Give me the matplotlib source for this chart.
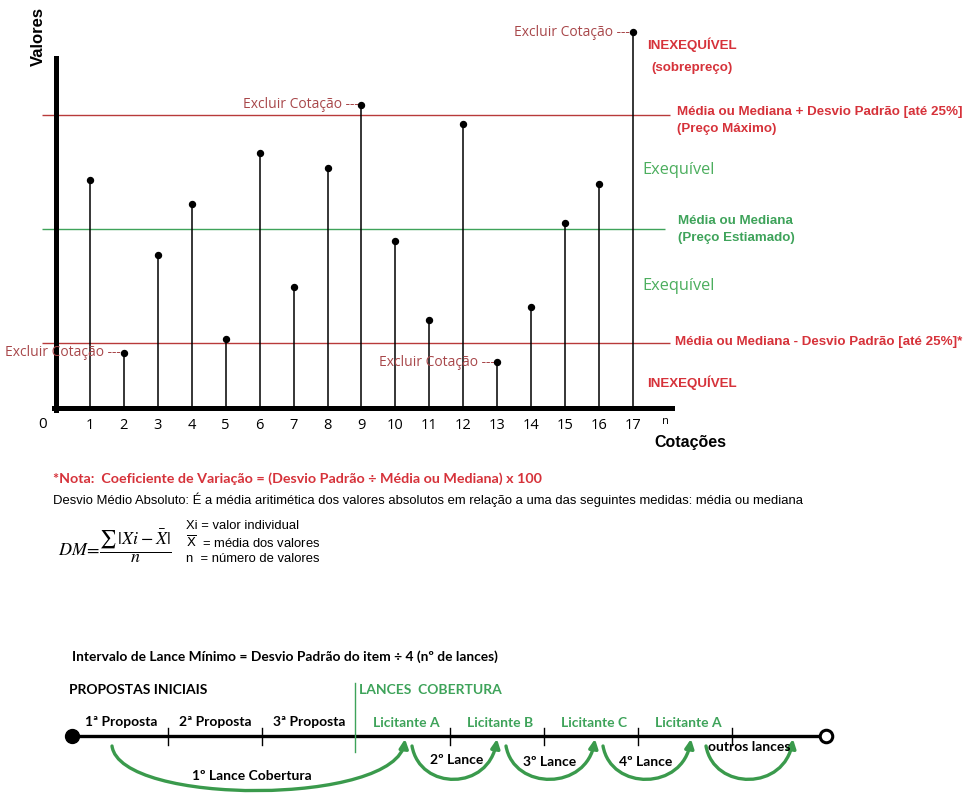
import numpy as np
import matplotlib
matplotlib.use('Agg')
import matplotlib.pyplot as plt
from matplotlib.patches import FancyArrowPatch
from matplotlib.path import Path

# dados
cotacoes = list(range(1, 18))
valores = [57, 13.75, 38.25, 51, 17.25, 63.75, 30.25, 60, 75.75, 41.75,
           22, 71, 11.5, 25.25, 46.25, 56, 94]
excluir = [2, 9, 13, 17]
limite_sup = 73.25   # media + desvio padrao
media = 44.75        # media ou mediana
limite_inf = 16.25   # media - desvio padrao

propostas = ['1ª Proposta', '2ª Proposta', '3ª Proposta']
licitantes = ['Licitante A', 'Licitante B', 'Licitante C', 'Licitante A']
lances = ['1º Lance Cobertura', '2º Lance', '3º Lance', '4º Lance', 'outros lances']

RED = '#d6323a'
RED_LINE = '#b83a3a'
BROWN = '#a8474a'
GREEN = '#3ea35a'
GREEN_LIGHT = '#4cae5e'
ARC = '#3a9a4c'

W, H = 971, 798
fig = plt.figure(figsize=(W / 100, H / 100), dpi=100)

# --- grafico principal (posicao em pixels) ---
px_x = 33.94
x0 = 56
left_px = x0 - 1 * px_x
right_px = x0 + 19 * px_x
ax = fig.add_axes([left_px / W, (H - 424) / H, (right_px - left_px) / W, 416 / H])
ax.set_xlim(-1, 19)
ax.set_ylim(-4, 100)
ax.patch.set_visible(False)

for s in ['top', 'right']:
    ax.spines[s].set_visible(False)
ax.spines['left'].set_position(('data', 0))
ax.spines['bottom'].set_position(('data', 0))
ax.spines['left'].set_bounds(-0.6, 87.5)
ax.spines['bottom'].set_bounds(-0.07, 18.15)
ax.spines['left'].set_linewidth(3.6)
ax.spines['bottom'].set_linewidth(3.6)
ax.set_yticks([])
ax.set_xticks(cotacoes)
ax.set_xticklabels([str(c) for c in cotacoes], fontfamily='Open Sans', fontsize=10.5)
ax.tick_params(axis='x', length=0, pad=7.3)

ax.hlines([limite_sup, limite_inf], -0.41, 18.1, colors=RED_LINE, lw=1.0, zorder=1)
ax.hlines(media, -0.41, 17.95, colors=GREEN, lw=1.0, zorder=1)

ax.vlines(cotacoes, 0, valores, colors='black', lw=1.1, zorder=3)
ax.plot(cotacoes, valores, 'o', ms=4.3, color='black', zorder=4)

for c in excluir:
    ax.annotate('Excluir Cotação ---', (c, valores[c - 1]), xytext=(-2, 0),
                textcoords='offset points', ha='right', va='center',
                color=BROWN, fontsize=10, fontfamily='Open Sans')

# --- camada de textos e diagrama (coordenadas em pixels) ---
ov = fig.add_axes([0, 0, 1, 1])
ov.set_xlim(0, W)
ov.set_ylim(H, 0)
ov.axis('off')


def txt(x, y, s, **kw):
    kw.setdefault('va', 'center')
    ov.text(x, y, s, **kw)


arial_b = dict(fontfamily='Liberation Sans', fontweight='bold')
txt(38, 36, 'Valores', rotation=90, ha='center', fontsize=12, **arial_b)
txt(654, 443, 'Cotações', fontsize=11.5, **arial_b)
txt(43, 424, '0', ha='center', fontsize=11, fontfamily='Open Sans')
txt(665, 422, 'n', ha='center', fontsize=8, fontfamily='Open Sans')

lab = dict(fontsize=9.6, **arial_b)
txt(647, 45, 'INEXEQUÍVEL', color=RED, **lab)
txt(651, 68, '(sobrepreço)', color=RED, **lab)
txt(677, 112, 'Média ou Mediana + Desvio Padrão [até 25%]', color=RED, **lab)
txt(677, 129, '(Preço Máximo)', color=RED, **lab)
txt(642, 170, 'Exequível', color=GREEN_LIGHT, fontsize=11.8, fontfamily='Open Sans')
txt(678, 221, 'Média ou Mediana', color=GREEN, **lab)
txt(678, 238, '(Preço Estiamado)', color=GREEN, **lab)
txt(642, 286, 'Exequível', color=GREEN_LIGHT, fontsize=11.8, fontfamily='Open Sans')
txt(675, 342, 'Média ou Mediana - Desvio Padrão [até 25%]*', color=RED, **lab)
txt(647, 383, 'INEXEQUÍVEL', color=RED, **lab)

# notas
txt(53, 479, '*Nota:  Coeficiente de Variação = (Desvio Padrão ÷ Média ou Mediana) x 100',
    color=RED, fontsize=10.3, fontfamily='Lato', fontweight='bold')
narrow = dict(fontfamily='Liberation Sans', fontsize=9.4, math_fontfamily='dejavusans')
txt(53, 500, 'Desvio Médio Absoluto: É a média aritimética dos valores absolutos '
    'em relação a uma das seguintes medidas: média ou mediana', **narrow)
txt(58, 546, r'$DM\!=\!\dfrac{\sum\,|Xi-\bar{X}|}{n}$', fontsize=13, math_fontfamily='stix')
txt(186, 526, 'Xi = valor individual', **narrow)
txt(186, 543, r'$\overline{\mathrm{X}}$  = média dos valores', **narrow)
txt(186, 559, 'n  = número de valores', **narrow)

# diagrama de lances
cal_b = dict(fontfamily='Lato', fontweight='bold', fontsize=10)
txt(72, 657, 'Intervalo de Lance Mínimo = Desvio Padrão do item ÷ 4 (nº de lances)',
    fontfamily='Lato', fontweight='bold', fontsize=9.9)
txt(69, 690, 'PROPOSTAS INICIAIS', **cal_b)
txt(359, 690, 'LANCES  COBERTURA', color=GREEN, **cal_b)

t0, step, ty = 72, 94, 736
ov.plot([t0, t0 + 8 * step + 2], [ty, ty], color='black', lw=2.4, zorder=2)
ov.plot(t0, ty, 'o', ms=10, color='black', zorder=3)
ov.plot(t0 + 8 * step + 2, ty, 'o', ms=9, mfc='white', mec='black', mew=2.2, zorder=3)
for i in [1, 2, 4, 5, 6, 7]:
    ov.plot([t0 + i * step + 2] * 2, [728, 745], color='black', lw=1)
ov.plot([t0 + 3 * step + 1] * 2, [683, 752], color=GREEN, lw=1)

for i, p in enumerate(propostas):
    txt(t0 + (i + 0.5) * step + 2, 722, p, ha='center', **cal_b)
for i, l in enumerate(licitantes):
    txt(t0 + (i + 3.5) * step + 5, 723, l, ha='center', color=GREEN, **cal_b)

lance_pos = [(252, 776), (457, 760), (550, 762), (646, 762), (749, 747)]
for (x, y), l in zip(lance_pos, lances):
    txt(x, y, l, ha='center', **cal_b)

arcs = [(112, 405, 60), (412, 497, 45), (506, 595, 45), (603, 691, 45), (706, 793, 45)]
for xa, xb, d in arcs:
    ya, yb = 746, 739
    path = Path([(xa, ya), (xa + 8, ya + d), (xb - 8, ya + d), (xb, yb)],
                [Path.MOVETO, Path.CURVE4, Path.CURVE4, Path.CURVE4])
    ov.add_patch(FancyArrowPatch(path=path, arrowstyle='-|>', mutation_scale=13,
                                 color=ARC, lw=2.4))

fig.savefig('out.png', dpi=100)
